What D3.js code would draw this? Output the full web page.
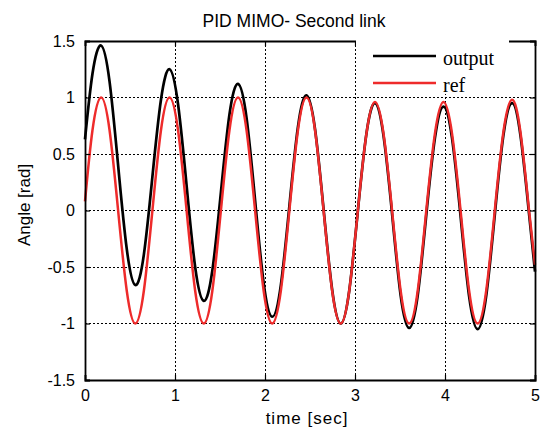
<!DOCTYPE html>
<html><head><meta charset="utf-8">
<script src="https://cdn.jsdelivr.net/npm/d3@7"></script>
<style>html,body{margin:0;padding:0;background:#fff;}</style>
</head><body>
<svg id="chart" width="548" height="430"></svg>
<script>
const title = "PID MIMO- Second link";
const xLabel = "time [sec]";
const yLabel = "Angle [rad]";
const xTicks = [0, 1, 2, 3, 4, 5];
const yTicks = [-1.5, -1, -0.5, 0, 0.5, 1, 1.5];
const yTickLabels = ["-1.5", "-1", "-0.5", "0", "0.5", "1", "1.5"];
const seriesNames = ["output", "ref"];

const time = [0, 0.083, 0.178, 0.273, 0.368, 0.464, 0.559, 0.654, 0.749, 0.844,
  0.939, 1.034, 1.129, 1.224, 1.320, 1.415, 1.510, 1.605, 1.700, 1.795,
  1.890, 1.985, 2.080, 2.176, 2.271, 2.366, 2.461, 2.556, 2.651, 2.746,
  2.841, 2.936, 3.032, 3.127, 3.222, 3.317, 3.412, 3.507, 3.602, 3.697,
  3.792, 3.888, 3.983, 4.078, 4.173, 4.268, 4.363, 4.458, 4.553, 4.648,
  4.744, 4.839, 4.934, 5.0];

const refValues = [0.08, 0.71, 1.0, 0.71, 0, -0.71, -1.0, -0.71, 0, 0.71,
  1.0, 0.71, 0, -0.71, -1.0, -0.71, 0, 0.71, 1.0, 0.71,
  0, -0.71, -1.0, -0.71, 0, 0.71, 1.0, 0.71, 0, -0.71,
  -1.0, -0.71, 0, 0.68, 0.96, 0.68, 0, -0.71, -1.0, -0.71,
  0, 0.68, 0.96, 0.68, 0, -0.71, -1.0, -0.71, 0, 0.69,
  0.98, 0.69, 0, -0.48];

const outputValues = [0.63, 1.21, 1.46, 1.14, 0.40, -0.34, -0.66, -0.39, 0.30, 0.98,
  1.25, 0.94, 0.22, -0.50, -0.80, -0.53, 0.16, 0.85, 1.12, 0.82,
  0.09, -0.64, -0.94, -0.66, 0.04, 0.74, 1.02, 0.72, 0.01, -0.70,
  -1.0, -0.71, 0, 0.68, 0.95, 0.66, -0.03, -0.75, -1.04, -0.75,
  -0.04, 0.64, 0.92, 0.64, -0.05, -0.76, -1.05, -0.755, -0.04, 0.66,
  0.95, 0.66, -0.03, -0.54];

const svg = d3.select("#chart");
const L = 85, R = 535, T = 41, B = 380;
const x = d3.scaleLinear().domain([0, 5]).range([L, R]);
const y = d3.scaleLinear().domain([-1.5, 1.5]).range([B, T]);
const sans = "'Liberation Sans', Arial, sans-serif";
const serif = "'Liberation Serif', 'Times New Roman', serif";

// grid
const grid = svg.append("g").attr("shape-rendering", "crispEdges");
grid.selectAll("line.gx").data(xTicks.slice(1, -1)).enter().append("line")
  .attr("x1", d => x(d)).attr("x2", d => x(d)).attr("y1", T).attr("y2", B)
  .attr("stroke", "#000").attr("stroke-width", 1).attr("stroke-dasharray", "2,2");
grid.selectAll("line.gy").data(yTicks.slice(1, -1)).enter().append("line")
  .attr("y1", d => y(d)).attr("y2", d => y(d)).attr("x1", L).attr("x2", R)
  .attr("stroke", "#000").attr("stroke-width", 1).attr("stroke-dasharray", "2,2");

// lines
const pts = (vals) => time.map((t, i) => [t, vals[i]]);
const line = d3.line().x(d => x(d[0])).y(d => y(d[1])).curve(d3.curveNatural);
svg.append("path").attr("d", line(pts(outputValues)))
  .attr("fill", "none").attr("stroke", "#000").attr("stroke-width", 2.7);
svg.append("path").attr("d", line(pts(refValues)))
  .attr("fill", "none").attr("stroke", "#ee2b2b").attr("stroke-width", 2.5);

// axes (MATLAB style, ticks inward)
const axB = d3.axisBottom(x).tickValues(xTicks).tickSize(-5).tickPadding(10).tickFormat(d3.format("d"));
const axL = d3.axisLeft(y).tickValues(yTicks).tickSize(-5).tickPadding(10).tickFormat((d, i) => yTickLabels[i]);
const axT = d3.axisTop(x).tickValues(xTicks).tickSize(-5).tickFormat("");
const axR = d3.axisRight(y).tickValues(yTicks).tickSize(-5).tickFormat("");
const gB = svg.append("g").attr("transform", `translate(0,${B})`).call(axB);
const gL = svg.append("g").attr("transform", `translate(${L},0)`).call(axL);
const gT = svg.append("g").attr("transform", `translate(0,${T})`).call(axT);
const gR = svg.append("g").attr("transform", `translate(${R},0)`).call(axR);
[gB, gL, gT, gR].forEach(g => {
  g.select(".domain").attr("stroke", "#000").attr("stroke-width", 1.8);
  g.selectAll(".tick line").attr("stroke", "#000").attr("stroke-width", 1.2);
  g.selectAll("text").attr("font-family", sans).attr("font-size", 16).attr("fill", "#000");
});

// legend (white box covering part of top border)
const lg = svg.append("g");
lg.append("rect").attr("x", 356).attr("y", 34).attr("width", 153).attr("height", 60).attr("fill", "#fff");
const legY = [56, 83];
const legColors = ["#000", "#ee2b2b"];
seriesNames.forEach((n, i) => {
  lg.append("line").attr("x1", 373).attr("x2", 436).attr("y1", legY[i]).attr("y2", legY[i])
    .attr("stroke", legColors[i]).attr("stroke-width", 2.7);
  lg.append("text").attr("x", 443).attr("y", legY[i] + 9).text(n)
    .attr("font-family", serif).attr("font-size", 20).attr("fill", "#000");
});

// titles
svg.append("text").attr("x", 294).attr("y", 27).attr("text-anchor", "middle")
  .attr("font-family", sans).attr("font-size", 17.5).text(title);
svg.append("text").attr("x", 307).attr("y", 424).attr("text-anchor", "middle")
  .attr("font-family", sans).attr("font-size", 17).attr("letter-spacing", 1).text(xLabel);
svg.append("text").attr("transform", "translate(30,205) rotate(-90)").attr("text-anchor", "middle")
  .attr("font-family", sans).attr("font-size", 17).text(yLabel);
</script>
</body></html>
